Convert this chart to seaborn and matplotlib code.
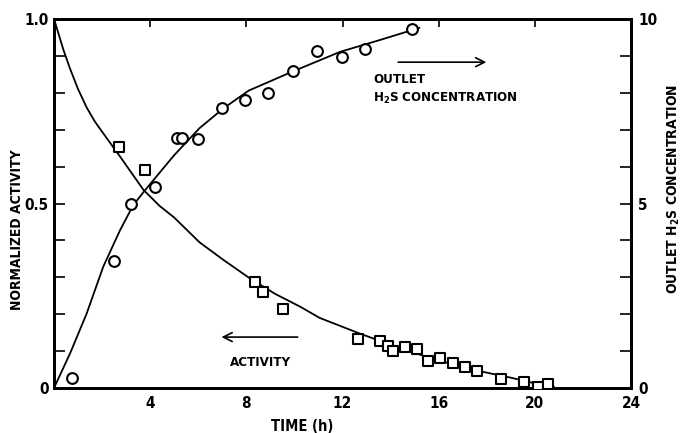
import matplotlib
matplotlib.use("Agg")
import matplotlib.pyplot as plt
import seaborn as sns
import pandas as pd
from matplotlib.ticker import MultipleLocator, FixedLocator

# Measured points: outlet H2S concentration (right axis, 0-10)
h2s_time = [0.74, 2.51, 3.21, 4.21, 5.13, 5.31, 5.98, 6.98, 7.95, 8.91,
            9.93, 10.93, 11.97, 12.94, 14.90]
h2s_conc = [0.28, 3.45, 4.99, 5.44, 6.78, 6.78, 6.76, 7.60, 7.80, 7.99,
            8.60, 9.14, 8.96, 9.18, 9.72]

# Smoothed H2S curve
h2s_fit_time = [0, 0.67, 1.36, 2.05, 2.75, 3.3, 3.8, 5.0, 6.05, 7.05,
                8.1, 9.9, 11.9, 13.55, 15.2]
h2s_fit_conc = [0, 0.94, 2.02, 3.29, 4.28, 4.96, 5.37, 6.31, 7.04, 7.58,
                8.06, 8.57, 9.11, 9.43, 9.76]

# Measured points: normalized activity (left axis, 0-1)
act_time = [2.70, 3.79, 8.36, 8.68, 9.54, 12.66, 13.56, 13.91, 14.09, 14.60,
            15.09, 15.54, 16.06, 16.61, 17.10, 17.58, 18.59, 19.56, 20.15, 20.56]
act_value = [0.653, 0.591, 0.286, 0.261, 0.213, 0.132, 0.127, 0.114, 0.100, 0.110,
             0.106, 0.073, 0.080, 0.069, 0.058, 0.047, 0.024, 0.015, 0.004, 0.011]

# Smoothed activity curve
act_fit_time = [0, 0.4, 0.67, 1.0, 1.36, 1.7, 2.05, 2.75, 3.72, 4.4, 5.0, 6.05,
                7.05, 8.15, 9.2, 10.25, 11.05, 12.7, 14.3, 15.9, 17.9, 19.0,
                20.3, 20.8]
act_fit_value = [1.0, 0.915, 0.865, 0.81, 0.76, 0.722, 0.69, 0.627, 0.537, 0.493,
                 0.462, 0.395, 0.347, 0.297, 0.255, 0.22, 0.19, 0.148, 0.11,
                 0.076, 0.043, 0.028, 0.008, 0.003]

x_ticks = [4, 8, 12, 16, 20, 24]
left_ticks = [0, 0.5, 1.0]
left_tick_labels = ["0", "0.5", "1.0"]
right_ticks = [0, 5, 10]
right_tick_labels = ["0", "5", "10"]

sns.set_style("white")
plt.rcParams["font.family"] = ["DejaVu Sans"]
plt.rcParams["font.stretch"] = "condensed"
plt.rcParams["font.weight"] = "bold"
plt.rcParams["axes.labelweight"] = "bold"
plt.rcParams["text.color"] = "black"
plt.rcParams["axes.labelcolor"] = "black"
plt.rcParams["xtick.color"] = "black"
plt.rcParams["ytick.color"] = "black"

fig = plt.figure(figsize=(6.83, 4.33), dpi=100)
ax = fig.add_axes([54 / 683, 45 / 433, 577 / 683, 369 / 433])
ax2 = ax.twinx()

act_pts = pd.DataFrame({"t": act_time, "a": act_value})
act_fit = pd.DataFrame({"t": act_fit_time, "a": act_fit_value})
h2s_pts = pd.DataFrame({"t": h2s_time, "c": h2s_conc})
h2s_fit = pd.DataFrame({"t": h2s_fit_time, "c": h2s_fit_conc})

sns.lineplot(data=act_fit, x="t", y="a", ax=ax, color="black", lw=1.3,
             sort=False, estimator=None)
sns.scatterplot(data=act_pts, x="t", y="a", ax=ax, marker="s", s=60,
                facecolor="white", edgecolor="black", linewidth=1.5, zorder=3)
sns.lineplot(data=h2s_fit, x="t", y="c", ax=ax2, color="black", lw=1.3,
             sort=False, estimator=None)
sns.scatterplot(data=h2s_pts, x="t", y="c", ax=ax2, marker="o", s=60,
                facecolor="white", edgecolor="black", linewidth=1.5, zorder=3)

ax.set_xlim(0, 24)
ax.set_ylim(0, 1.0)
ax2.set_ylim(0, 10)

ax.xaxis.set_major_locator(FixedLocator(x_ticks))
ax.set_xticklabels([str(t) for t in x_ticks])
ax.yaxis.set_major_locator(FixedLocator(left_ticks))
ax.set_yticklabels(left_tick_labels)
ax.yaxis.set_minor_locator(MultipleLocator(0.1))
ax2.yaxis.set_major_locator(FixedLocator(right_ticks))
ax2.set_yticklabels(right_tick_labels)
ax2.yaxis.set_minor_locator(MultipleLocator(1))

ax.tick_params(axis="x", which="major", direction="in", length=6, width=1.2,
               top=True, labelsize=11, pad=6, color="black")
ax.tick_params(axis="y", which="both", direction="in", length=8, width=1.2,
               labelsize=11, pad=4, color="black")
ax2.tick_params(axis="y", which="both", direction="in", length=8, width=1.2,
                labelsize=11, pad=5, color="black")

for a in (ax, ax2):
    for sp in a.spines.values():
        sp.set_visible(True)
        sp.set_linewidth(2.0)
        sp.set_color("black")

ax.set_xlabel("TIME (h)", fontsize=10.5)
ax.xaxis.set_label_coords(0.43, -0.083)
ax.set_ylabel("NORMALIZED ACTIVITY", fontsize=10)
ax.yaxis.set_label_coords(-0.052, 0.43)
ax2.set_ylabel("OUTLET H$_2$S CONCENTRATION", fontsize=10)
ax2.yaxis.set_label_coords(1.06, 0.54)

# Annotations with arrows
ax.annotate("", xy=(18.1, 0.883), xytext=(14.2, 0.883),
            arrowprops=dict(arrowstyle="->", lw=1.2, color="black",
                            mutation_scale=16))
ax.text(13.27, 0.837, "OUTLET", fontsize=9.5, ha="left", va="center")
ax.text(13.27, 0.785, "H$_2$S CONCENTRATION", fontsize=9.5, ha="left", va="center")
ax.annotate("", xy=(6.85, 0.138), xytext=(10.25, 0.138),
            arrowprops=dict(arrowstyle="->", lw=1.2, color="black",
                            mutation_scale=16))
ax.text(8.6, 0.068, "ACTIVITY", fontsize=9.5, ha="center", va="center")

ax.set_zorder(ax2.get_zorder() + 1)
ax.patch.set_visible(False)

fig.savefig("out.png", dpi=100, facecolor="white")
